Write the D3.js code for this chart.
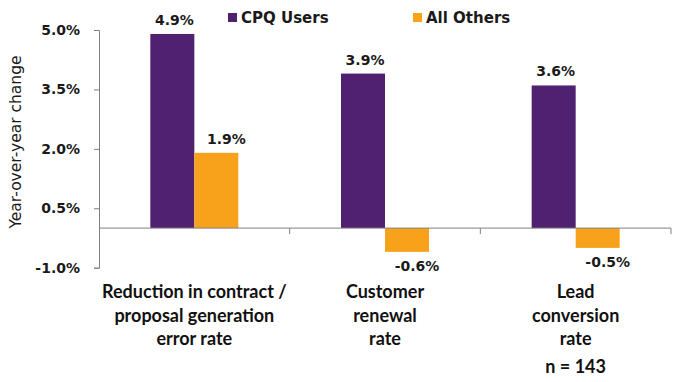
<!DOCTYPE html>
<html>
<head>
<meta charset="utf-8">
<script src="https://cdn.jsdelivr.net/npm/d3@7"></script>
<style>
  body { margin: 0; background: #fff; }
  svg { display: block; }
</style>
</head>
<body>
<div id="chart"></div>
<script>
const width = 674;
const height = 382;

// data
const categories = [
  "Reduction in contract /\nproposal generation\nerror rate",
  "Customer\nrenewal\nrate",
  "Lead\nconversion\nrate"
];
const seriesNames = ["CPQ Users", "All Others"];
const cpqUsers = [4.9, 3.9, 3.6];
const allOthers = [1.9, -0.6, -0.5];
const yTicks = [-1.0, 0.5, 2.0, 3.5, 5.0];
const note = "n = 143";

const colors = { "CPQ Users": "#4f2170", "All Others": "#f8a11b" };

const svg = d3.select("#chart").append("svg")
  .attr("width", width)
  .attr("height", height);

const y = d3.scaleLinear().domain([-1, 5]).range([267.7, 30]);
const x0 = d3.scaleBand().domain(categories).range([99, 671]);
const x1 = d3.scaleBand().domain(seriesNames).range([0, 88]);
const groupOffset = (x0.bandwidth() - 88) / 2;

const rows = categories.map((c, i) => ({
  category: c,
  values: [
    { series: "CPQ Users", value: cpqUsers[i] },
    { series: "All Others", value: allOthers[i] }
  ]
}));

// y axis
const yAxis = svg.append("g")
  .attr("transform", "translate(99,0)")
  .call(d3.axisLeft(y).tickValues(yTicks).tickSize(5).tickPadding(14)
    .tickFormat(d => d.toFixed(1) + "%"));
yAxis.select(".domain").attr("stroke", "#808080");
yAxis.selectAll(".tick line").attr("stroke", "#808080");
yAxis.selectAll("text")
  .attr("font-family", "DejaVu Sans")
  .attr("font-weight", "bold")
  .attr("font-size", 14)
  .attr("fill", "#1a1a1a");

// bars
const groups = svg.append("g")
  .selectAll("g")
  .data(rows)
  .enter().append("g")
  .attr("transform", d => `translate(${x0(d.category) + groupOffset},0)`);

groups.selectAll("rect")
  .data(d => d.values)
  .enter().append("rect")
  .attr("x", d => x1(d.series))
  .attr("width", x1.bandwidth())
  .attr("y", d => y(Math.max(0, d.value)))
  .attr("height", d => Math.abs(y(d.value) - y(0)))
  .attr("fill", d => colors[d.series]);

// value labels
const labelDx = { "CPQ Users": 2, "All Others": 10 };
groups.selectAll("text")
  .data(d => d.values)
  .enter().append("text")
  .attr("x", d => x1(d.series) + x1.bandwidth() / 2 + labelDx[d.series])
  .attr("y", d => d.value >= 0 ? y(d.value) - 9 : y(d.value) + 19)
  .attr("text-anchor", "middle")
  .attr("font-family", "DejaVu Sans")
  .attr("font-weight", "bold")
  .attr("font-size", 14)
  .attr("fill", "#1a1a1a")
  .text(d => d.value.toFixed(1) + "%");

// x axis at zero
const xAxis = svg.append("g").attr("transform", `translate(0,${y(0)})`);
xAxis.append("line")
  .attr("x1", 99).attr("x2", 671)
  .attr("stroke", "#808080");
xAxis.selectAll(".tk")
  .data(categories)
  .enter().append("line")
  .attr("x1", d => x0(d) + x0.bandwidth())
  .attr("x2", d => x0(d) + x0.bandwidth())
  .attr("y1", 0).attr("y2", 6)
  .attr("stroke", "#808080");

// category labels
const catLabels = svg.append("g")
  .selectAll("text")
  .data(categories)
  .enter().append("text")
  .attr("text-anchor", "middle")
  .attr("font-family", "Lato")
  .attr("font-weight", "bold")
  .attr("font-size", 18)
  .attr("fill", "#111");
catLabels.selectAll("tspan")
  .data(d => d.split("\n").map(t => ({ t, c: d })))
  .enter().append("tspan")
  .attr("x", d => x0(d.c) + x0.bandwidth() / 2)
  .attr("y", (d, i) => 298 + i * 23.5)
  .text(d => d.t);

svg.append("text")
  .attr("x", x0(categories[2]) + x0.bandwidth() / 2)
  .attr("y", 373)
  .attr("text-anchor", "middle")
  .attr("font-family", "Lato")
  .attr("font-weight", "bold")
  .attr("font-size", 18)
  .attr("fill", "#111")
  .text(note);

// y axis title
svg.append("text")
  .attr("transform", "translate(21,142) rotate(-90)")
  .attr("text-anchor", "middle")
  .attr("font-family", "DejaVu Sans")
  .attr("font-size", 15.5)
  .attr("fill", "#1a1a1a")
  .text("Year-over-year change");

// legend
const legendX = [228, 413];
const legend = svg.append("g")
  .selectAll("g")
  .data(seriesNames)
  .enter().append("g")
  .attr("transform", (d, i) => `translate(${legendX[i]},13)`);
legend.append("rect")
  .attr("width", 9).attr("height", 9)
  .attr("fill", d => colors[d]);
legend.append("text")
  .attr("x", 13).attr("y", 10)
  .attr("font-family", "DejaVu Sans")
  .attr("font-weight", "bold")
  .attr("font-size", 15)
  .attr("fill", "#1a1a1a")
  .text(d => d);
</script>
</body>
</html>
